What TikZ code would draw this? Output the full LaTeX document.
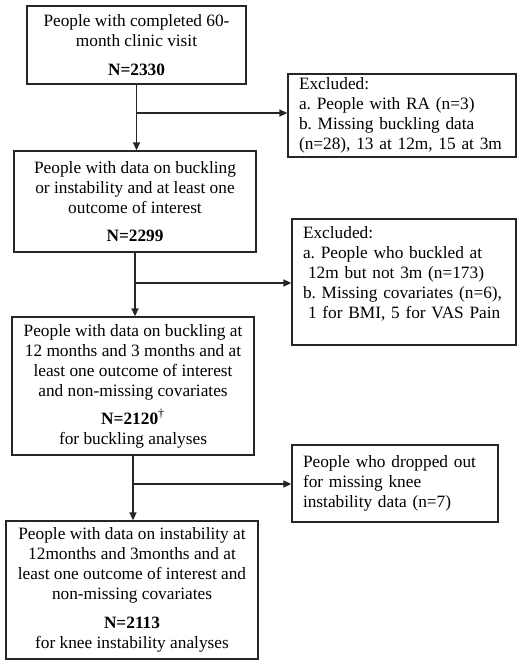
\documentclass[tikz,border=0pt]{standalone}
\usepackage{fontspec}
\setmainfont{Liberation Serif}
\usetikzlibrary{arrows.meta}
\frenchspacing
\begin{document}
\begin{tikzpicture}[x=1pt, y=-1pt,
  stage/.style={shape=rectangle, draw=black!85, line width=1.3pt, align=center, inner sep=0pt, font=\fontsize{17.3}{20}\selectfont},
  excl/.style={shape=rectangle, draw=black!85, line width=1.3pt, align=left, inner xsep=11pt, inner ysep=0pt, font=\fontsize{17.3}{20}\selectfont},
  flow/.style={-{Triangle[length=8pt,width=7pt]}, draw=black!85, line width=1.3pt}]
\useasboundingbox (0,0) rectangle (527,666);
% main stages
\node[stage, minimum width=219pt, minimum height=78pt] (b1) at (136.5, 45) {People with completed 60-\\month clinic visit\\[9pt]\textbf{N=2330}};
\node[stage, minimum width=242pt, minimum height=101pt] (b2) at (135, 201.5) {People with data on buckling\\or instability and at least one\\outcome of interest\\[8pt]\textbf{N=2299}};
\node[stage, minimum width=242pt, minimum height=138pt] (b3) at (133, 386) {People with data on buckling at\\12 months and 3 months and at\\least one outcome of interest\\and non-missing covariates\\[8pt]\textbf{N=2120}\textsuperscript{\textdagger}\\for buckling analyses};
\node[stage, minimum width=252pt, minimum height=138pt] (b4) at (132, 590) {People with data on instability at\\12months and 3months and at\\least one outcome of interest and\\non-missing covariates\\[9pt]\textbf{N=2113}\\for knee instability analyses};
% exclusions
\node[excl, text width=206pt, minimum height=83pt] (e1) at (402, 115.5) {Excluded:\\a. People with RA (n=3)\\b. Missing buckling data\\(n=28), 13 at 12m, 15 at 3m};
\node[excl, text width=202pt, minimum height=126pt] (e2) at (404, 282) {Excluded:\\a. People who buckled at\\\hspace*{5pt}12m but not 3m (n=173)\\b. Missing covariates (n=6),\\\hspace*{5pt}1 for BMI, 5 for VAS Pain\\[-7pt]\strut};
\node[excl, text width=184pt, minimum height=77pt] (e3) at (395, 483.5) {People who dropped out\\for missing knee\\instability data (n=7)};
% junctions
\coordinate (j1) at (136.5, 113);
\coordinate (j2) at (135, 283);
\coordinate (j3) at (133, 484);
\path (b1.south) edge[flow] (b1.south |- b2.north);
\path (b2.south) edge[flow] (b2.south |- b3.north);
\path (b3.south) edge[flow] (b3.south |- b4.north);
\path (j1) edge[flow] (j1 -| e1.west);
\path (j2) edge[flow] (j2 -| e2.west);
\path (j3) edge[flow] (j3 -| e3.west);
\end{tikzpicture}
\end{document}
